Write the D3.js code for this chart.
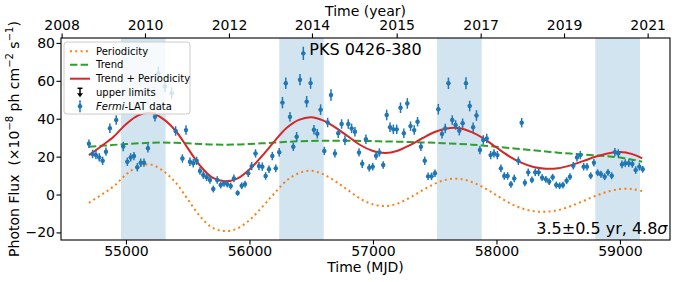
<!DOCTYPE html>
<html><head><meta charset="utf-8">
<script src="https://cdn.jsdelivr.net/npm/d3@7"></script>
<style>html,body{margin:0;padding:0;background:#fff}svg{display:block}text{font-family:"DejaVu Sans",sans-serif}</style>
</head><body><svg id="c" width="676" height="282"></svg>
<script>
// ---------- data ----------
const curveMJD = [54700,54800,54900,55000,55100,55200,55300,55400,55500,55600,55700,55800,55900,56000,56100,56200,56300,56400,56500,56600,56700,56800,56900,57000,57100,57200,57300,57400,57500,57600,57700,57800,57900,58000,58100,58200,58300,58400,58500,58600,58700,58800,58900,59000,59100,59180];
const periodicity = [-4.4,-0.2,4.3,10.5,14.8,15.8,12.5,6.5,-2.5,-11.5,-17.5,-19.3,-18.0,-13.5,-6.8,0.5,7.3,11.3,12.5,10.6,6.8,2.2,-2.3,-5.2,-6.1,-4.8,-1.6,2.2,5.7,7.9,8.3,6.6,3.6,-0.4,-4.3,-7.2,-8.8,-9.1,-8.2,-6.2,-3.5,-0.8,1.5,2.9,2.9,1.8];
const trend = [25.2,25.7,26.2,26.6,27.0,27.3,27.4,27.3,27.0,26.7,26.4,26.3,26.4,26.7,27.0,27.4,27.8,28.1,28.3,28.4,28.4,28.4,28.3,28.2,28.0,27.9,27.7,27.5,27.3,27.0,26.7,26.3,25.8,25.2,24.6,24.0,23.3,22.7,22.1,21.6,21.1,20.7,20.2,19.5,18.4,17.3];

const fermiMJD = [54700,54730,54757,54784,54811,54838,54870,54921,54978,55011,55038,55065,55092,55119,55146,55178,55235,55262,55316,55370,55402,55457,55486,55518,55545,55572,55599,55626,55653,55680,55707,55739,55767,55794,55820,55848,55874,55904,55937,55964,55990,56018,56049,56077,56104,56131,56158,56185,56213,56241,56267,56294,56328,56355,56382,56409,56436,56463,56495,56522,56549,56576,56606,56633,56660,56692,56719,56746,56773,56800,56827,56854,56887,56913,56943,56970,56998,57025,57052,57083,57111,57138,57165,57192,57223,57250,57278,57304,57334,57361,57388,57419,57446,57474,57502,57529,57559,57585,57611,57642,57669,57699,57726,57753,57783,57811,57838,57866,57893,57921,57953,57980,58007,58036,58063,58090,58117,58144,58177,58204,58230,58257,58287,58314,58341,58370,58400,58427,58455,58484,58511,58538,58568,58595,58622,58652,58679,58706,58733,58763,58789,58819,58846,58876,58903,58933,58959,58986,59016,59043,59071,59100,59127,59157,59184];
const fermiFlux = [26.8,21.4,20.8,19.6,17.8,22.6,35.0,39.3,25.4,17.3,19.6,20.3,14.4,16.8,16.8,24.4,41.0,64.0,57.0,53.5,33.5,19.0,34.0,17.3,16.5,17.8,12.4,10.3,9.1,7.7,2.9,7.7,5.0,5.9,5.5,4.5,8.5,0.8,4.6,5.5,11.2,15.0,21.7,15.0,14.7,9.8,13.3,20.3,13.8,22.3,48.5,58.7,41.0,25.2,30.5,60.6,74.5,49.0,58.8,34.2,32.1,44.8,23.0,38.0,52.5,21.7,32.3,37.2,28.6,37.2,34.9,33.1,22.2,16.2,29.2,14.1,14.7,20.5,22.2,15.6,42.0,35.5,34.4,34.4,45.8,32.3,48.1,36.1,34.0,38.4,25.2,17.8,9.6,9.6,11.2,45.0,32.0,34.9,58.7,39.3,36.7,33.7,37.6,58.7,46.7,35.5,41.7,23.5,28.8,29.6,20.8,21.7,20.8,13.8,9.8,9.8,5.4,8.5,17.8,37.9,6.2,11.7,7.7,11.7,11.7,8.9,8.0,6.8,9.1,5.0,4.6,5.0,7.3,9.4,15.2,19.6,20.8,14.7,14.7,9.9,16.8,11.5,10.7,9.4,11.7,9.9,22.4,21.7,15.9,16.5,16.5,16.1,12.9,14.7,13.3];
const fermiErr = [2.2,2.2,2.2,2.2,2.2,2.2,2.5,2.5,2.5,2.2,2.2,2.2,2.2,2.2,2.2,2.2,2.5,3.5,3.0,3.0,2.5,2.2,2.5,2.2,2.2,2.2,2.0,2.0,2.0,2.0,1.8,2.0,1.8,1.8,1.8,1.8,2.0,1.5,1.8,1.8,2.0,2.2,2.2,2.2,2.2,2.0,2.0,2.2,2.0,2.2,3.0,3.0,2.5,2.2,2.5,3.0,3.5,3.0,3.0,2.5,2.5,2.8,2.2,2.5,3.0,2.2,2.5,2.5,2.5,2.5,2.5,2.5,2.2,2.2,2.5,2.0,2.0,2.2,2.2,2.0,2.8,2.5,2.5,2.5,2.8,2.5,2.8,2.5,2.5,2.5,2.2,2.2,2.0,2.0,2.0,2.8,2.5,2.5,3.0,2.5,2.5,2.5,2.5,3.2,2.8,2.5,2.8,2.2,2.5,2.5,2.2,2.2,2.2,2.0,2.0,2.0,1.8,2.0,2.2,2.5,1.8,2.0,1.8,2.0,2.0,1.8,1.8,1.8,1.8,1.8,1.8,1.8,1.8,1.8,2.0,2.2,2.2,2.0,2.0,1.8,2.0,1.8,1.8,1.8,1.8,1.8,2.2,2.2,2.0,2.0,2.0,2.0,2.0,2.0,1.8];

const bandStart = [54960,56241,57518,58800];
const bandEnd   = [55321,56601,57880,59162];

const xTicks = [55000,56000,57000,58000,59000];
const yTicks = [-20,0,20,40,60,80];
const yearTickMJD = [54479,55154,55834,56506,57192,57872,58547,59224];
const yearTickLabels = ["2008","2010","2012","2014","2015","2017","2019","2021"];

// ---------- layout ----------
const L=61, R=670, T=38, B=240;
const svg = d3.select("#c");
const x = d3.scaleLinear().domain([54474,59405]).range([L,R]);
const y = d3.scaleLinear().domain([-24,82.6]).range([B,T]);
const C = {blue:"#1f77b4",orange:"#ff7f0e",green:"#2ca02c",red:"#d62728"};

const plot = svg.append("g");
// bands
plot.selectAll("rect.band").data(bandStart).join("rect")
  .attr("x",(d)=>x(d)).attr("width",(d,i)=>x(bandEnd[i])-x(d))
  .attr("y",T).attr("height",B-T).attr("fill",C.blue).attr("fill-opacity",0.2);

const combined = trend.map((t,i)=>t+periodicity[i]);
const line = (vals)=>d3.line().x((d,i)=>x(curveMJD[i])).y(d=>y(d)).curve(d3.curveCatmullRom)(vals);
plot.append("path").attr("d",line(periodicity)).attr("fill","none").attr("stroke",C.orange).attr("stroke-width",2).attr("stroke-dasharray","2,3.3");
plot.append("path").attr("d",line(trend)).attr("fill","none").attr("stroke",C.green).attr("stroke-width",2).attr("stroke-dasharray","7.4,3.2");
plot.append("path").attr("d",line(combined)).attr("fill","none").attr("stroke",C.red).attr("stroke-width",2);

// data points
const pts = plot.append("g");
fermiMJD.forEach((m,i)=>{
  const cx=x(m), cy=y(fermiFlux[i]);
  pts.append("line").attr("x1",cx).attr("x2",cx).attr("y1",y(fermiFlux[i]+fermiErr[i])).attr("y2",y(fermiFlux[i]-fermiErr[i])).attr("stroke",C.blue).attr("stroke-width",1.5);
  pts.append("line").attr("x1",x(m-15)).attr("x2",x(m+15)).attr("y1",cy).attr("y2",cy).attr("stroke",C.blue).attr("stroke-width",1.5);
  pts.append("circle").attr("cx",cx).attr("cy",cy).attr("r",2.2).attr("fill",C.blue);
});

// axes
const fs = 14;
const gB = svg.append("g").attr("transform",`translate(0,${B})`)
  .call(d3.axisBottom(x).tickValues(xTicks).tickFormat(d3.format("d")).tickSize(4.5).tickPadding(2));
const gT = svg.append("g").attr("transform",`translate(0,${T})`)
  .call(d3.axisTop(x).tickValues(yearTickMJD).tickFormat((d,i)=>yearTickLabels[i]).tickSize(4.5).tickPadding(3.5));
const gL = svg.append("g").attr("transform",`translate(${L},0)`)
  .call(d3.axisLeft(y).tickValues(yTicks).tickFormat(d=>d<0?"\u2212"+Math.abs(d):String(d)).tickSize(4.5).tickPadding(1.5));
const gR = svg.append("g").attr("transform",`translate(${R},0)`)
  .call(d3.axisRight(y).tickValues([]).tickSize(0));
[gB,gT,gL,gR].forEach(g=>{
  g.selectAll(".domain").remove();
  g.selectAll("line").attr("stroke","#000").attr("stroke-width",1.1);
  g.selectAll("text").attr("font-size",fs).attr("font-family","DejaVu Sans").attr("fill","#000");
});
svg.append("rect").attr("x",L).attr("y",T).attr("width",R-L).attr("height",B-T).attr("fill","none").attr("stroke","#000").attr("stroke-width",1.1);

// axis labels
svg.append("text").attr("x",(L+R)/2).attr("y",272).attr("text-anchor","middle").attr("font-size",fs).text("Time (MJD)");
svg.append("text").attr("x",(L+R)/2).attr("y",15.5).attr("text-anchor","middle").attr("font-size",fs).text("Time (year)");
const yl = svg.append("text").attr("transform",`translate(18.5,${(T+B)/2}) rotate(-90)`).attr("text-anchor","middle").attr("font-size",fs);
yl.append("tspan").text("Photon Flux\u00a0\u00a0(\u00d710");
yl.append("tspan").attr("font-size",10).attr("dy",-5.5).text("\u22128");
yl.append("tspan").attr("dy",5.5).text(" ph cm");
yl.append("tspan").attr("font-size",10).attr("dy",-5.5).text("\u22122");
yl.append("tspan").attr("dy",5.5).text(" s");
yl.append("tspan").attr("font-size",10).attr("dy",-5.5).text("\u22121");
yl.append("tspan").attr("dy",5.5).text(")");

// title and annotation
svg.append("text").attr("x",(L+R)/2).attr("y",55).attr("text-anchor","middle").attr("font-size",16).text("PKS 0426-380");
const ann = svg.append("text").attr("x",667.5).attr("y",234).attr("text-anchor","end").attr("font-size",16);
ann.append("tspan").text("3.5\u00b10.5 yr, 4.8");
ann.append("tspan").attr("font-style","italic").text("\u03c3");

// legend
const lg = svg.append("g");
lg.append("rect").attr("x",64).attr("y",42).attr("width",126).attr("height",72).attr("rx",3)
  .attr("fill","#fff").attr("fill-opacity",0.8).attr("stroke","#cccccc").attr("stroke-width",1);
const rowsY = [51.3,64.7,78.7,92.3,106.3];
lg.append("line").attr("x1",70).attr("x2",90).attr("y1",rowsY[0]).attr("y2",rowsY[0]).attr("stroke",C.orange).attr("stroke-width",2).attr("stroke-dasharray","2,3.3");
lg.append("line").attr("x1",70).attr("x2",90).attr("y1",rowsY[1]).attr("y2",rowsY[1]).attr("stroke",C.green).attr("stroke-width",2).attr("stroke-dasharray","7.4,3.2");
lg.append("line").attr("x1",70).attr("x2",90).attr("y1",rowsY[2]).attr("y2",rowsY[2]).attr("stroke",C.red).attr("stroke-width",2);
// upper limit symbol
const uy = rowsY[3];
lg.append("line").attr("x1",77.5).attr("x2",82.5).attr("y1",uy-4).attr("y2",uy-4).attr("stroke","#000").attr("stroke-width",1.5);
lg.append("line").attr("x1",80).attr("x2",80).attr("y1",uy-4).attr("y2",uy+2).attr("stroke","#000").attr("stroke-width",1.5);
lg.append("path").attr("d",`M77,${uy+1} L83,${uy+1} L80,${uy+5} Z`).attr("fill","#000");
// fermi symbol
const fy = rowsY[4];
lg.append("line").attr("x1",80).attr("x2",80).attr("y1",fy-6).attr("y2",fy+6).attr("stroke",C.blue).attr("stroke-width",1.5);
lg.append("circle").attr("cx",80).attr("cy",fy).attr("r",2.2).attr("fill",C.blue);
const labels = ["Periodicity","Trend","Trend + Periodicity","upper limits",null];
labels.forEach((t,i)=>{
  if(t) lg.append("text").attr("x",96).attr("y",rowsY[i]+3.6).attr("font-size",10).text(t);
});
const ft = lg.append("text").attr("x",96).attr("y",rowsY[4]+3.6).attr("font-size",10);
ft.append("tspan").attr("font-style","italic").text("Fermi");
ft.append("tspan").text("-LAT data");
</script></body></html>
